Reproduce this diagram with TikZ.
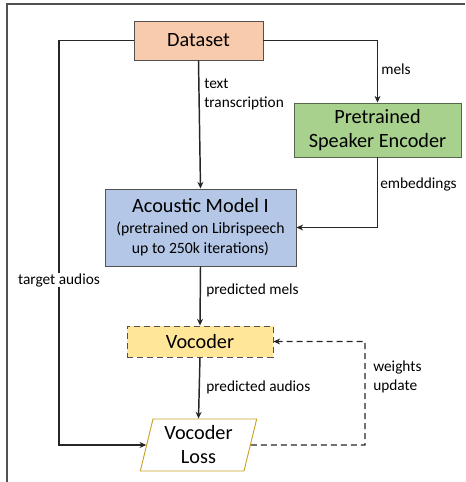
\documentclass[tikz,border=0pt]{standalone}
\usepackage{fontspec}
\setmainfont{Carlito}
\usetikzlibrary{arrows.meta,shapes.geometric}
\definecolor{peach}{HTML}{F8CBAD}
\definecolor{leaf}{HTML}{A9D18E}
\definecolor{sky}{HTML}{B4C7E7}
\definecolor{butter}{HTML}{FFE699}
\definecolor{gold}{HTML}{C9A227}
\definecolor{ink}{HTML}{262626}
\newcommand{\subtxt}{\fontsize{11.8}{14.25}\selectfont}
\tikzset{
  block/.style={draw=ink!80,line width=0.7pt,inner sep=0pt,align=center,font=\fontsize{15.2}{18}\selectfont},
  lbl/.style={inner sep=0pt,anchor=west,align=left,font=\fontsize{11.5}{14.25}\selectfont},
  flow/.style={draw=ink,line width=1.1pt,-{Stealth[length=5pt,width=4.5pt]}},
  dashes/.style={dash pattern=on 4.5pt off 3pt},
}
\begin{document}
\begin{tikzpicture}[x=0.75pt,y=-0.75pt]
\useasboundingbox (0,0) rectangle (465,482);
\draw[ink!80,line width=1pt] (465,4) -- (7,4) -- (7,482);
% blocks
\node[block,fill=peach,minimum width=96.75pt,minimum height=29.25pt] (data) at (198.5,40.5) {Dataset};
\node[block,fill=leaf,draw=leaf!50!black,minimum width=125.25pt,minimum height=40.5pt] (enc) at (377.5,130) {Pretrained\\Speaker Encoder};
\node[block,fill=sky,minimum width=143.25pt,minimum height=57.75pt] (acou) at (200.5,227.5)
  {Acoustic Model I\\[-2pt]\subtxt (pretrained on Librispeech\\[-3pt]\subtxt up to 250k iterations)};
\node[block,fill=butter,dashes,minimum width=109.5pt,minimum height=23.25pt] (voc) at (200,341.5) {Vocoder};
\node[block,draw=gold,trapezium,trapezium left angle=76,trapezium right angle=104,trapezium stretches=true,
  minimum width=87.75pt,minimum height=39pt] (loss) at (198.5,445) {Vocoder\\Loss};
\node[lbl,anchor=center] (ta) at (59,280) {target audios};
% connectors
\draw[flow] (data.south) -- (acou.north);
\draw[flow] (data.east) -| (enc.north);
\draw[flow] (enc.south) |- (acou.east);
\draw[flow] (acou.south) -- (voc.north);
\draw[flow] (voc.south) -- (loss.north);
\draw[draw=ink,line width=1.1pt] (data.west) -| (ta.north);
\draw[flow] (ta.south) |- (loss.west);
\draw[flow,dashes] (loss.east) -- (365,445) |- (voc.east);
% labels
\node[lbl] at (204,94) {text\\transcription};
\node[lbl] at (381,69) {mels};
\node[lbl] at (380,184) {embeddings};
\node[lbl] at (206,290) {predicted mels};
\node[lbl] at (206,387) {predicted audios};
\node[lbl] at (373,377) {weights\\update};
\end{tikzpicture}
\end{document}
